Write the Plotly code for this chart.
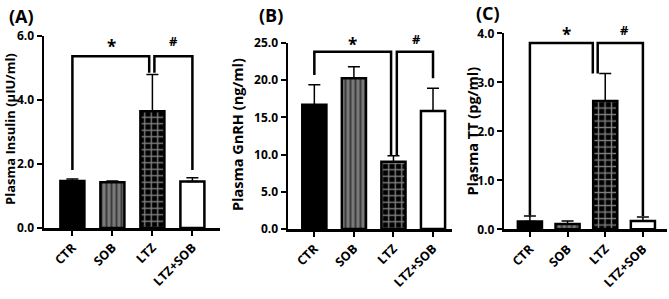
import plotly.graph_objects as go

# ---------------- data ----------------
categories = ["CTR", "SOB", "LTZ", "LTZ+SOB"]

insulin = [1.47, 1.43, 3.65, 1.45]
insulin_err = [0.06, 0.04, 1.15, 0.12]

gnrh = [16.7, 20.25, 9.05, 15.86]
gnrh_err = [2.7, 1.55, 0.8, 3.05]

tt = [0.16, 0.11, 2.62, 0.17]
tt_err = [0.11, 0.06, 0.56, 0.08]

# significance brackets: [top, CTR leg bottom, LTZ legs bottom, LTZ+SOB leg bottom]
bracket_a = [5.37, 1.81, 4.85, 1.81]
bracket_b = [23.83, 20.7, 9.9, 20.25]
bracket_c = [3.80, 0.28, 3.18, 0.27]

insulin_ticks = [0, 2, 4, 6]
gnrh_ticks = [0, 5, 10, 15, 20, 25]
tt_ticks = [0, 1, 2, 3, 4]

panel_labels = ["(A)", "(B)", "(C)"]
y_titles = ["Plasma Insulin (µIU/ml)", "Plasma GnRH (ng/ml)", "Plasma TT (pg/ml)"]

# ---------------- layout helpers ----------------
W, H = 669, 299
FONT = "Open Sans, Liberation Sans, Arial, sans-serif"

def px_x(p):
    return p / W

def px_y(p):
    return 1 - p / H

def b(t):
    return f"<b>{t}</b>"

panels = [
    dict(vals=insulin, err=insulin_err, br=bracket_a, ticks=insulin_ticks, xr=[-0.71, 3.69], xpx=[44, 220],
         ypx=[228, 36], yr=[0, 6], bw=0.6, legs=(-0.08, 0.05),
         star=(111.7, 46), hash=(173.3, 41), label=(21, 16), title=(10, 129), tsize=13),
    dict(vals=gnrh, err=gnrh_err, br=bracket_b, ticks=gnrh_ticks, xr=[-0.666, 3.48], xpx=[288, 452],
         ypx=[229, 43], yr=[0, 25], bw=0.61, legs=(-0.06, 0.085),
         star=(352.7, 44.5), hash=(416.7, 39), label=(271, 15), title=(238, 135), tsize=14.5),
    dict(vals=tt, err=tt_err, br=bracket_c, ticks=tt_ticks, xr=[-0.68, 3.64], xpx=[504.3, 667],
         ypx=[229.3, 33.3], yr=[0, 4], bw=0.64, legs=(-0.33, -0.2),
         star=(566.7, 34.5), hash=(624.3, 30), label=(488, 13), title=(472, 131.5), tsize=14.5),
]

fig = go.Figure()
xs = list(range(len(categories)))

patterns = [
    dict(shape=""),
    dict(shape="|", fgcolor="black", bgcolor="#7a7a7a", size=5, solidity=0.4),
    dict(shape="+", fgcolor="white", bgcolor="black", size=6.5, solidity=0.38),
    dict(shape=""),
]
fills = ["black", "#7a7a7a", "black", "white"]

annotations = []
shapes = []

def note(x, y, text, size, angle=0):
    return dict(x=px_x(x), y=px_y(y), xref="paper", yref="paper", text=b(text),
                showarrow=False, xanchor="center", yanchor="middle", textangle=angle,
                font=dict(family=FONT, size=size, color="black"))

for i, p in enumerate(panels):
    xa = "x" if i == 0 else f"x{i+1}"
    ya = "y" if i == 0 else f"y{i+1}"
    for j in xs:
        fig.add_trace(go.Bar(
            x=[xs[j]], y=[p["vals"][j]], width=p["bw"],
            marker=dict(color=fills[j], pattern=patterns[j],
                        line=dict(color="black", width=2.5)),
            error_y=dict(type="data", array=[p["err"][j]], arrayminus=[0],
                         symmetric=False, color="black", thickness=1.5, width=6),
            xaxis=xa, yaxis=ya, showlegend=False, hoverinfo="skip",
        ))
    lay_x = "xaxis" if i == 0 else f"xaxis{i+1}"
    lay_y = "yaxis" if i == 0 else f"yaxis{i+1}"
    fig.layout[lay_x] = dict(
        domain=[px_x(p["xpx"][0]), px_x(p["xpx"][1])], range=p["xr"],
        anchor=ya, tickvals=xs, ticktext=[b(c) for c in categories], tickangle=-45,
        showline=True, linecolor="black", linewidth=2.5, ticks="outside",
        ticklen=5, tickwidth=2, tickcolor="black", showgrid=False, zeroline=False,
        automargin=False, fixedrange=True,
        tickfont=dict(family=FONT, size=12.5, color="black"),
    )
    fig.layout[lay_y] = dict(
        domain=[px_y(p["ypx"][0]), px_y(p["ypx"][1])], range=p["yr"],
        anchor=xa, tickvals=p["ticks"], ticktext=[b(f"{t:.1f}") for t in p["ticks"]],
        showline=True, linecolor="black", linewidth=2.5, ticks="outside",
        ticklen=5, tickwidth=2, tickcolor="black", showgrid=False, zeroline=False,
        automargin=False, fixedrange=True,
        tickfont=dict(family=FONT, size=12, color="black"),
    )
    top, b0, b2, b3 = p["br"]
    l1, l2 = p["legs"]
    lw = 2.5
    shapes.append(dict(type="path", xref=xa, yref=ya,
                       path=f"M 0,{b0} L 0,{top} L {2+l1},{top} L {2+l1},{b2}",
                       line=dict(color="black", width=lw)))
    shapes.append(dict(type="path", xref=xa, yref=ya,
                       path=f"M {2+l2},{b2} L {2+l2},{top} L 3,{top} L 3,{b3}",
                       line=dict(color="black", width=lw)))
    annotations.append(note(p["star"][0], p["star"][1], "*", 17))
    annotations.append(note(p["hash"][0], p["hash"][1], "#", 13))
    annotations.append(note(p["label"][0], p["label"][1], panel_labels[i], 18))
    annotations.append(note(p["title"][0], p["title"][1], y_titles[i], p["tsize"], -90))

fig.update_layout(
    width=W, height=H, margin=dict(l=0, r=0, t=0, b=0, autoexpand=False),
    paper_bgcolor="white", plot_bgcolor="white",
    barmode="overlay", shapes=shapes, annotations=annotations,
)

fig.write_html("out.html", config={"displayModeBar": False, "staticPlot": True},
               post_script="document.body.style.margin='0';")
